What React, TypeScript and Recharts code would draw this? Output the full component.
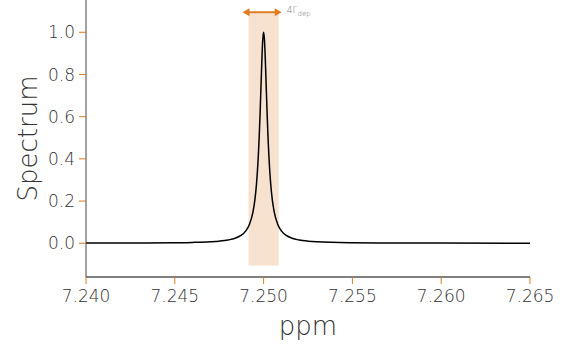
import React from 'react';
import { LineChart, Line, XAxis, YAxis, ReferenceArea, ReferenceLine } from 'recharts';

// ppm positions and spectrum values (single narrow peak at 7.250)
const PPM = [
  7.240, 7.243, 7.245, 7.246, 7.247, 7.2475, 7.248, 7.2484, 7.2487,
  7.249, 7.2492, 7.2494, 7.2495, 7.2496, 7.2497, 7.24975, 7.2498, 7.24985, 7.2499, 7.24995,
  7.25,
  7.25005, 7.2501, 7.25015, 7.2502, 7.25025, 7.2503, 7.2504, 7.2505, 7.2506, 7.2508,
  7.251, 7.2513, 7.2516, 7.252, 7.2525, 7.253, 7.255, 7.257, 7.26, 7.265,
];
const SPECTRUM = [
  0.0006, 0.0013, 0.0025, 0.0039, 0.0069, 0.0099, 0.0154, 0.0238, 0.0357,
  0.0588, 0.089, 0.148, 0.2, 0.281, 0.41, 0.5, 0.61, 0.735, 0.862, 0.962,
  1.0,
  0.962, 0.862, 0.735, 0.61, 0.5, 0.41, 0.281, 0.2, 0.148, 0.089,
  0.0588, 0.0357, 0.0238, 0.0154, 0.0099, 0.0069, 0.0025, 0.0013, 0.0006, 0.0003,
];
const X_TICKS = [7.24, 7.245, 7.25, 7.255, 7.26, 7.265];
const Y_TICKS = [0, 0.2, 0.4, 0.6, 0.8, 1.0];
const BAND = [7.24915, 7.25085];

const data = PPM.map((p, i) => ({ ppm: p, value: SPECTRUM[i] }));

const ORANGE = '#e07b1f';
const FONT = '"DejaVu Sans", sans-serif';
const TEXT = '#333';

const ArrowShape = (props: any) => {
  const { x1, y1, x2 } = props;
  const y = y1;
  const a = x1 - 6;
  const b = x2 + 3;
  return (
    <g>
      <line x1={a + 4} y1={y} x2={b - 4} y2={y} stroke={ORANGE} strokeWidth={2} />
      <polygon points={`${a},${y} ${a + 7},${y - 4} ${a + 7},${y + 4}`} fill={ORANGE} />
      <polygon points={`${b},${y} ${b - 7},${y - 4} ${b - 7},${y + 4}`} fill={ORANGE} />
      <text x={b + 5} y={y + 1} fontSize={9} fill="#777" fontFamily={FONT} fontWeight={200}>
        4Γ<tspan fontSize={7} dy={3}>dep</tspan>
      </text>
    </g>
  );
};

export default function App() {
  return (
    <div style={{ position: 'absolute', left: 0, top: 0, background: '#fff' }}>
      <LineChart width={576} height={349} data={data} margin={{ top: 0, right: 46, bottom: 20, left: 0 }}>
        <XAxis
          dataKey="ppm"
          type="number"
          domain={[7.24, 7.265]}
          ticks={X_TICKS}
          tickFormatter={(v: number) => v.toFixed(3)}
          allowDataOverflow
          height={52}
          stroke="#000"
          tickLine={{ stroke: ORANGE }}
          tickSize={7}
          tickMargin={6}
          tick={{ fill: TEXT, fontSize: 17, fontFamily: FONT, fontWeight: 200 }}
          label={{ value: 'ppm', position: 'insideBottom', offset: -6, fill: TEXT, fontSize: 26, fontFamily: FONT, fontWeight: 200 }}
        />
        <YAxis
          type="number"
          domain={[-0.16, 1.153]}
          ticks={Y_TICKS}
          tickFormatter={(v: number) => v.toFixed(1)}
          allowDataOverflow
          width={86}
          stroke="#444"
          tickLine={{ stroke: ORANGE }}
          tickSize={7}
          tickMargin={4}
          tick={{ fill: TEXT, fontSize: 17, fontFamily: FONT, fontWeight: 200 }}
          label={{ value: 'Spectrum', angle: -90, position: 'insideLeft', offset: 28, fill: TEXT, fontSize: 26, fontFamily: FONT, fontWeight: 200, style: { textAnchor: 'middle' } }}
        />
        <ReferenceArea x1={BAND[0]} x2={BAND[1]} y1={-0.105} y2={1.09} fill="#f6e2cf" fillOpacity={1} stroke="none" ifOverflow="visible" />
        <ReferenceLine
          segment={[{ x: BAND[0], y: 1.095 }, { x: BAND[1], y: 1.095 }]}
          shape={ArrowShape}
          ifOverflow="visible"
        />
        <Line type="monotone" dataKey="value" stroke="#000" strokeWidth={1.5} dot={false} isAnimationActive={false} />
      </LineChart>
    </div>
  );
}
